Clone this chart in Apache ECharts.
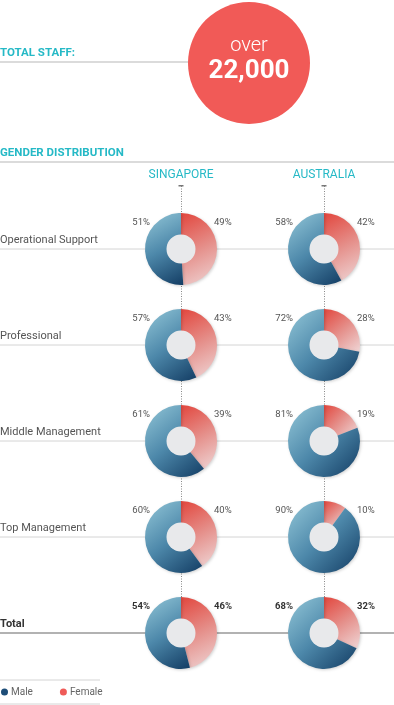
<!DOCTYPE html>
<html><head><meta charset="utf-8">
<script src="https://cdn.jsdelivr.net/npm/echarts@6/dist/echarts.min.js"></script>
<style>html,body{margin:0;padding:0;background:#fff}#c{width:394px;height:705px}</style>
</head><body><div id="c"></div>
<script>
const rows = ['Operational Support','Professional','Middle Management','Top Management','Total'];
const countries = ['SINGAPORE','AUSTRALIA'];
const singaporeMale = [51,57,61,60,54];
const singaporeFemale = [49,43,39,40,46];
const australiaMale = [58,72,81,90,68];
const australiaFemale = [42,28,19,10,32];
const genders = ['Male','Female'];
const totalStaffTitle = 'TOTAL STAFF:';
const totalStaffPrefix = 'over';
const totalStaffValue = '22,000';
const sectionTitle = 'GENDER DISTRIBUTION';

const FONT = 'Roboto, "Open Sans", sans-serif';
const TEAL = '#25b9c6';
const colX = [181, 324];
const rowY0 = 249, rowStep = 96;
const values = [[singaporeMale, singaporeFemale],[australiaMale, australiaFemale]];

const maleGrad = new echarts.graphic.LinearGradient(0,0,1,1,[{offset:0,color:'#93c7d8'},{offset:0.5,color:'#4d88aa'},{offset:1,color:'#133d64'}]);
const femaleGrad = new echarts.graphic.LinearGradient(0,0,1,1,[{offset:0,color:'#e2463d'},{offset:0.5,color:'#e58f8a'},{offset:1,color:'#efd6d6'}]);

const series = [];
const graphics = [];
// header
graphics.push({type:'line',z:-5,shape:{x1:0,y1:62,x2:190,y2:62},style:{stroke:'#cfcfcf',lineWidth:1.5}});
graphics.push({type:'text',x:0,y:53,style:{text:totalStaffTitle,font:'bold 11.5px '+FONT,fill:TEAL,verticalAlign:'middle'}});
graphics.push({type:'circle',z:1,shape:{cx:249,cy:63,r:61},style:{fill:'#f15a57'}});
graphics.push({type:'text',z:2,x:249,y:46,style:{text:totalStaffPrefix,font:'300 20px '+FONT,fill:'#fff',align:'center',verticalAlign:'middle'}});
graphics.push({type:'text',z:2,x:249,y:71,style:{text:totalStaffValue,font:'bold 26px '+FONT,fill:'#fff',align:'center',verticalAlign:'middle'}});
graphics.push({type:'text',x:0,y:153.5,style:{text:sectionTitle,font:'bold 11.5px '+FONT,fill:TEAL,verticalAlign:'middle'}});
graphics.push({type:'line',z:-5,shape:{x1:0,y1:162,x2:394,y2:162},style:{stroke:'#cfcfcf',lineWidth:1.5}});

countries.forEach((c,ci)=>{
  const x = colX[ci];
  graphics.push({type:'text',x:x,y:174.5,style:{text:c,font:'12px '+FONT,fill:TEAL,align:'center',verticalAlign:'middle'}});
  graphics.push({type:'rect',shape:{x:x-2.5,y:185,width:5,height:1.5},style:{fill:'#777'}});
  graphics.push({type:'line',z:-4,shape:{x1:x+0.5,y1:186,x2:x+0.5,y2:600},style:{stroke:'#888',lineWidth:1,lineDash:[1,1.5]}});
});

rows.forEach((r,ri)=>{
  const y = rowY0 + rowStep*ri;
  const isTotal = ri === rows.length-1;
  graphics.push({type:'line',z:-6,shape:{x1:0,y1:y,x2:394,y2:y},style:{stroke:isTotal?'#999':'#d4d4d4',lineWidth:isTotal?1.5:1}});
  graphics.push({type:'text',x:0,y:y-9,style:{text:r,font:(isTotal?'bold ':'')+'11px '+FONT,fill:isTotal?'#333':'#555',verticalAlign:'middle'}});
  countries.forEach((c,ci)=>{
    const x = colX[ci];
    const m = values[ci][0][ri], f = values[ci][1][ri];
    graphics.push({type:'text',x:x-31,y:y-26,style:{text:m+'%',font:(isTotal?'bold ':'')+'9.5px '+FONT,fill:isTotal?'#333':'#555',align:'right',verticalAlign:'middle'}});
    graphics.push({type:'text',x:x+33,y:y-26,style:{text:f+'%',font:(isTotal?'bold ':'')+'9.5px '+FONT,fill:isTotal?'#333':'#555',align:'left',verticalAlign:'middle'}});
    series.push({
      type:'pie',center:[x,y],radius:[14,36],startAngle:90,clockwise:true,silent:true,
      label:{show:false},labelLine:{show:false},emphasis:{disabled:true},
      itemStyle:{shadowBlur:3,shadowColor:'rgba(0,0,0,0.18)',shadowOffsetX:1,shadowOffsetY:1},
      data:[{name:genders[1],value:f,itemStyle:{color:femaleGrad}},{name:genders[0],value:m,itemStyle:{color:maleGrad}}]
    });
    series.push({
      type:'pie',center:[x,y],radius:[0,14.5],silent:true,z:3,
      label:{show:false},labelLine:{show:false},emphasis:{disabled:true},
      itemStyle:{color:'#e8e9eb'},data:[{name:'',value:1}]
    });
  });
});

// legend lines
graphics.push({type:'line',shape:{x1:0,y1:680,x2:100,y2:680},style:{stroke:'#d4d4d4',lineWidth:1}});
graphics.push({type:'line',shape:{x1:0,y1:704,x2:100,y2:704},style:{stroke:'#d4d4d4',lineWidth:1}});

const chart = echarts.init(document.getElementById('c'),null,{renderer:'canvas'});
chart.setOption({
  animation:false,
  legend:{left:1,top:685,padding:[2,0,2,0],icon:'circle',itemWidth:7,itemHeight:7,itemGap:27,selectedMode:false,
    textStyle:{fontSize:10,color:'#666',fontFamily:FONT,padding:[0,0,0,-2]},
    data:[{name:genders[0],itemStyle:{color:'#1d4d78'}},{name:genders[1],itemStyle:{color:'#ef5b58'}}]},
  graphic:graphics,
  series:series
});
</script></body></html>
